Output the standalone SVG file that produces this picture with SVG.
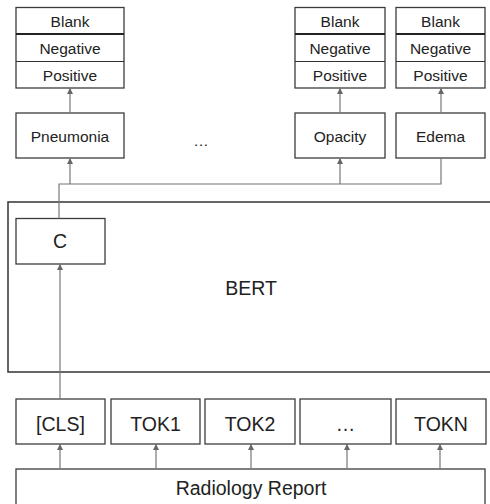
<svg xmlns="http://www.w3.org/2000/svg" width="490" height="504" viewBox="0 0 490 504">
<defs>
<style>
.box{fill:#fff;stroke:#3c3c3c;stroke-width:1.3}
.big{fill:none;stroke:#333;stroke-width:1.5}
.div{stroke:#222;stroke-width:1.8}
.div2{stroke:#333;stroke-width:1.2}
.conn{fill:none;stroke:#777;stroke-width:1.2}
.t15{font-family:"Liberation Sans",Arial,sans-serif;font-size:15.5px;fill:#222;text-anchor:middle}
.t19{font-family:"Liberation Sans",Arial,sans-serif;font-size:19.5px;fill:#222;text-anchor:middle}
</style>
<marker id="ah" viewBox="0 0 6 8" refX="6" refY="4" markerWidth="6" markerHeight="8" markerUnits="userSpaceOnUse" orient="auto">
<path d="M0,1 L6,4 L0,7 Z" fill="#666"/>
</marker>
</defs>

<g id="table-pneumonia">
<rect class="box" x="16" y="7.5" width="108" height="80.5"/>
<line class="div" x1="16" y1="34" x2="124" y2="34"/>
<line class="div2" x1="16" y1="61.5" x2="124" y2="61.5"/>
<text class="t15" x="70" y="26.5">Blank</text>
<text class="t15" x="70" y="53.5">Negative</text>
<text class="t15" x="70" y="80.5">Positive</text>
</g>
<g id="table-opacity">
<rect class="box" x="295" y="7.5" width="90" height="80.5"/>
<line class="div" x1="295" y1="34" x2="385" y2="34"/>
<line class="div2" x1="295" y1="61.5" x2="385" y2="61.5"/>
<text class="t15" x="340" y="26.5">Blank</text>
<text class="t15" x="340" y="53.5">Negative</text>
<text class="t15" x="340" y="80.5">Positive</text>
</g>
<g id="table-edema">
<rect class="box" x="396" y="7.5" width="89" height="80.5"/>
<line class="div" x1="396" y1="34" x2="485" y2="34"/>
<line class="div2" x1="396" y1="61.5" x2="485" y2="61.5"/>
<text class="t15" x="440.5" y="26.5">Blank</text>
<text class="t15" x="440.5" y="53.5">Negative</text>
<text class="t15" x="440.5" y="80.5">Positive</text>
</g>

<g id="pneumonia"><rect class="box" x="16" y="113" width="108" height="45"/><text class="t15" x="70" y="141.5">Pneumonia</text></g>
<g id="ellipsis-top"><text class="t15" x="201" y="146">…</text></g>
<g id="opacity"><rect class="box" x="295" y="113" width="90" height="45"/><text class="t15" x="340" y="141.5">Opacity</text></g>
<g id="edema"><rect class="box" x="396" y="113" width="89" height="45"/><text class="t15" x="440.5" y="141.5">Edema</text></g>

<g id="bert"><rect class="big" x="8" y="202" width="495" height="170"/><text class="t19" x="251" y="295">BERT</text></g>
<g id="c"><rect class="box" x="16" y="218.5" width="89" height="45.5"/><text class="t19" x="60" y="248">C</text></g>

<g id="cls"><rect class="box" x="16" y="399" width="89" height="45"/><text class="t19" x="60.5" y="431">[CLS]</text></g>
<g id="tok1"><rect class="box" x="111" y="399" width="89" height="45"/><text class="t19" x="155.5" y="431">TOK1</text></g>
<g id="tok2"><rect class="box" x="205" y="399" width="90" height="45"/><text class="t19" x="250" y="431">TOK2</text></g>
<g id="tok-ellipsis"><rect class="box" x="300" y="399" width="91" height="45"/><text class="t19" x="345.5" y="431">…</text></g>
<g id="tokn"><rect class="box" x="396" y="399" width="90" height="45"/><text class="t19" x="441" y="431">TOKN</text></g>

<g id="radiology"><rect class="box" x="16" y="469" width="469" height="45"/><text class="t19" x="251" y="495">Radiology Report</text></g>

<g id="connectors">
<path class="conn" d="M70,113 V88" marker-end="url(#ah)"/>
<path class="conn" d="M340,113 V88" marker-end="url(#ah)"/>
<path class="conn" d="M441,113 V88" marker-end="url(#ah)"/>
<path class="conn" d="M59,218.5 V184 H441 V158"/>
<path class="conn" d="M70,184 V158" marker-end="url(#ah)"/>
<path class="conn" d="M340,184 V158" marker-end="url(#ah)"/>
<path class="conn" d="M60,399 V264" marker-end="url(#ah)"/>
<path class="conn" d="M60,469 V444" marker-end="url(#ah)"/>
<path class="conn" d="M156,469 V444" marker-end="url(#ah)"/>
<path class="conn" d="M251,469 V444" marker-end="url(#ah)"/>
<path class="conn" d="M347,469 V444" marker-end="url(#ah)"/>
<path class="conn" d="M440,469 V444" marker-end="url(#ah)"/>
</g>
</svg>
